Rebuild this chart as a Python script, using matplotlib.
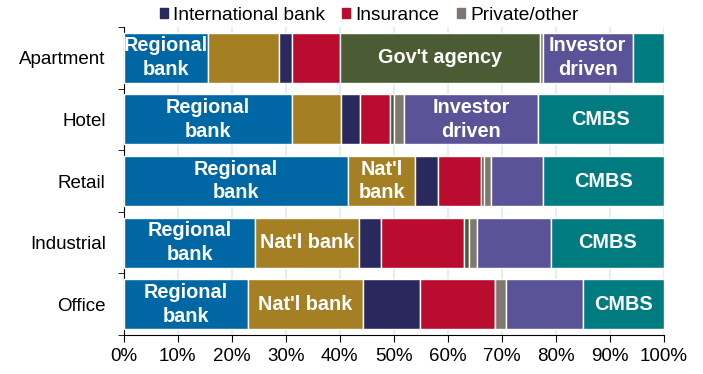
import matplotlib.pyplot as plt
from matplotlib.patches import Patch
from matplotlib.ticker import FuncFormatter
import numpy as np

plt.rcParams['font.family'] = ['Liberation Sans', 'DejaVu Sans']

# categories bottom -> top
property_types = ['Office', 'Industrial', 'Retail', 'Hotel', 'Apartment']

# lender share (%) per property type, same order as property_types
regional_bank = [23.0, 24.4, 41.5, 31.2, 15.6]
natl_bank = [21.3, 19.1, 12.5, 9.1, 13.1]
intl_bank = [10.5, 4.2, 4.2, 3.5, 2.5]
insurance = [14.0, 15.3, 7.9, 5.6, 8.9]
govt_agency = [0.0, 0.9, 0.7, 0.7, 37.0]
private_other = [2.0, 1.5, 1.2, 1.9, 0.5]
investor_driven = [14.2, 13.7, 9.6, 24.7, 16.7]
cmbs = [15.0, 20.9, 22.4, 23.3, 5.7]

# in-bar labels ('' = no label)
regional_lbl = ['Regional\nbank'] * 5
natl_lbl = ["Nat'l bank", "Nat'l bank", "Nat'l\nbank", '', '']
govt_lbl = ['', '', '', '', "Gov't agency"]
investor_lbl = ['', '', '', 'Investor\ndriven', 'Investor\ndriven']
cmbs_lbl = ['CMBS', 'CMBS', 'CMBS', 'CMBS', '']
empty = [''] * 5

series = [
    ('Regional bank', regional_bank, '#0067a5', regional_lbl),
    ("Nat'l bank", natl_bank, '#a47f24', natl_lbl),
    ('International bank', intl_bank, '#29295e', empty),
    ('Insurance', insurance, '#ba0c2f', empty),
    ("Gov't agency", govt_agency, '#4b5b33', govt_lbl),
    ('Private/other', private_other, '#7e7870', empty),
    ('Investor driven', investor_driven, '#5b5398', investor_lbl),
    ('CMBS', cmbs, '#007b80', cmbs_lbl),
]

fig = plt.figure(figsize=(7.03, 3.74), dpi=100)
ax = fig.add_axes([0.176, 0.104, 0.768, 0.824])

y = np.arange(len(property_types))
left = np.zeros(len(property_types))
for name, vals, col, lbls in series:
    vals = np.array(vals)
    ax.barh(y, vals, left=left, height=0.81, color=col, edgecolor='white',
            linewidth=1, zorder=3, label=name)
    for i, t in enumerate(lbls):
        if t:
            ax.text(left[i] + vals[i] / 2, y[i], t, ha='center', va='center',
                    color='white', fontsize=14.3, fontweight='bold',
                    linespacing=1.3, zorder=4)
    left += vals

ax.set_xlim(0, 100)
ax.set_ylim(-0.5, 4.5)
ax.set_xticks(np.arange(0, 101, 10))
ax.xaxis.set_major_formatter(FuncFormatter(lambda v, p: '%d%%' % v))
ax.set_yticks(y)
ax.set_yticklabels(property_types)
ax.set_yticks(np.arange(-0.5, 5, 1), minor=True)
ax.tick_params(axis='y', which='major', length=0, labelsize=13.5, pad=13)
ax.tick_params(axis='y', which='minor', length=4, direction='out')
ax.tick_params(axis='x', length=5, labelsize=13.5, pad=4)
ax.grid(axis='x', color='#e4edf1', linewidth=1.5, zorder=0)
for s in ['top', 'right']:
    ax.spines[s].set_visible(False)

handles = [Patch(color='#29295e'), Patch(color='#ba0c2f'), Patch(color='#7e7870')]
fig.legend(handles, ['International bank', 'Insurance', 'Private/other'],
           loc='center', bbox_to_anchor=(0.525, 0.958), ncol=3, frameon=False,
           fontsize=13.8, handlelength=0.42, handleheight=0.42, handletextpad=0.27,
           columnspacing=0.9)

plt.savefig('out.png', dpi=100)
